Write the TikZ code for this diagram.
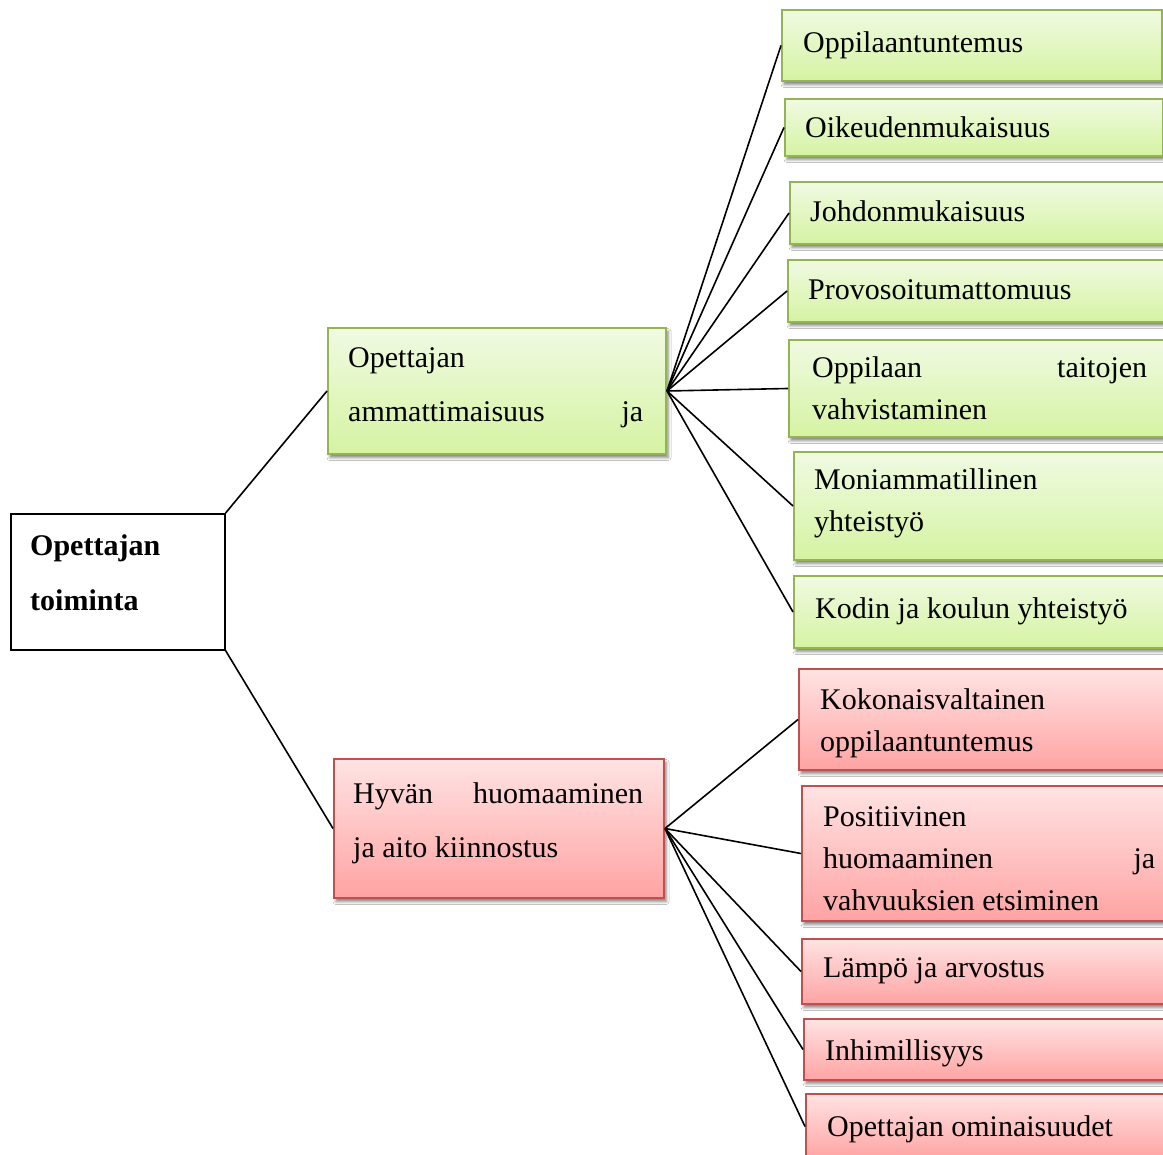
\documentclass[tikz,border=0pt]{standalone}
\usepackage{fontspec}
\setmainfont{Liberation Serif}
\usetikzlibrary{shadows.blur}
\definecolor{gtop}{HTML}{F0FAE2}
\definecolor{gbot}{HTML}{D5F3A2}
\definecolor{gline}{HTML}{94B454}
\definecolor{rtop}{HTML}{FFE3E3}
\definecolor{rbot}{HTML}{FFA3A3}
\definecolor{rline}{HTML}{C0504D}
\begin{document}
\begin{tikzpicture}[x=1pt,y=-1pt,
  box/.style={rectangle, anchor=north west, inner sep=0pt, line width=2pt,
    blur shadow={shadow xshift=2pt, shadow yshift=-3.5pt, shadow blur radius=3pt, shadow opacity=50}},
  gbox/.style={box, draw=gline, top color=gtop, bottom color=gbot},
  rbox/.style={box, draw=rline, top color=rtop, bottom color=rbot},
  txt/.style={anchor=base west, inner sep=0pt, font=\fontsize{30}{42}\selectfont},
  midtxt/.style={anchor=base west, inner sep=0pt, font=\fontsize{30}{54}\selectfont},
  link/.style={line width=1.6pt, black}]
\useasboundingbox (0,0) rectangle (1163,1155);
\fill[white] (0,0) rectangle (1163,1155);
\clip (0,0) rectangle (1163,1155);

% root
\node[draw, line width=1.6pt, fill=white, anchor=north west, inner sep=0pt,
      minimum width=214pt, minimum height=136pt] (root) at (10,513) {};
% middle boxes
\node[gbox, minimum width=338pt, minimum height=126pt] (gm) at (327,327) {};
\node[rbox, minimum width=330pt, minimum height=139pt] (rm) at (333,758) {};
% green children
\node[gbox, minimum width=380pt, minimum height=71pt] (g1) at (781,9) {};
\node[gbox, minimum width=378pt, minimum height=57pt] (g2) at (784,98) {};
\node[gbox, minimum width=390pt, minimum height=62pt] (g3) at (789,181) {};
\node[gbox, minimum width=390pt, minimum height=62pt] (g4) at (787,259) {};
\node[gbox, minimum width=390pt, minimum height=97pt] (g5) at (788,339) {};
\node[gbox, minimum width=390pt, minimum height=108pt] (g6) at (793,451) {};
\node[gbox, minimum width=390pt, minimum height=72pt] (g7) at (793,575) {};
% red children
\node[rbox, minimum width=390pt, minimum height=101pt] (r1) at (798,668) {};
\node[rbox, minimum width=390pt, minimum height=135pt] (r2) at (801,785) {};
\node[rbox, minimum width=390pt, minimum height=65pt] (r3) at (801,938) {};
\node[rbox, minimum width=390pt, minimum height=61pt] (r4) at (803,1018) {};
\node[rbox, minimum width=390pt, minimum height=65pt] (r5) at (805,1093) {};

% connectors
\draw[link] (root.north east) -- (gm.west);
\draw[link] (root.south east) -- (rm.west);
\foreach \c in {g1,g2,g3,g4,g5,g6,g7}
  \draw[link] (gm.east) -- (\c.west);
\foreach \c in {r1,r2,r3,r4,r5}
  \draw[link] (rm.east) -- (\c.west);

% texts
\node[anchor=base west, inner sep=0pt, font=\fontsize{30}{55}\selectfont\bfseries] (troot) at (30,555)
  {\parbox[t]{190pt}{Opettajan\\toiminta}};
\node[midtxt] (tgm) at (348,368)
  {\parbox[t]{295pt}{Opettajan\\\noindent\hbox to 295pt{ammattimaisuus\hfill ja}}};
\node[midtxt] (trm) at (353,803)
  {\parbox[t]{290pt}{\noindent\hbox to 290pt{Hyvän\hfill huomaaminen}\\ja aito kiinnostus}};

\node[txt] (tg1) at (803,53) {Oppilaantuntemus};
\node[txt] (tg2) at (805,138) {Oikeudenmukaisuus};
\node[txt] (tg3) at (810,222) {Johdonmukaisuus};
\node[txt] (tg4) at (808,300) {Provosoitumattomuus};
\node[txt] (tg5) at (812,378)
  {\parbox[t]{335pt}{\noindent\hbox to 335pt{Oppilaan\hfill taitojen}\\vahvistaminen}};
\node[txt] (tg6) at (814,490) {\parbox[t]{330pt}{Moniammatillinen\\yhteistyö}};
\node[txt] (tg7) at (815,618) {Kodin ja koulun yhteistyö};

\node[txt] (tr1) at (820,709) {\parbox[t]{330pt}{Kokonaisvaltainen\\oppilaantuntemus}};
\node[txt] (tr2) at (823,826)
  {\parbox[t]{332pt}{Positiivinen\\\noindent\hbox to 332pt{huomaaminen\hfill ja}\\vahvuuksien etsiminen}};
\node[txt] (tr3) at (823,977) {Lämpö ja arvostus};
\node[txt] (tr4) at (825,1060) {Inhimillisyys};
\node[txt] (tr5) at (827,1136) {Opettajan ominaisuudet};
\end{tikzpicture}
\end{document}
